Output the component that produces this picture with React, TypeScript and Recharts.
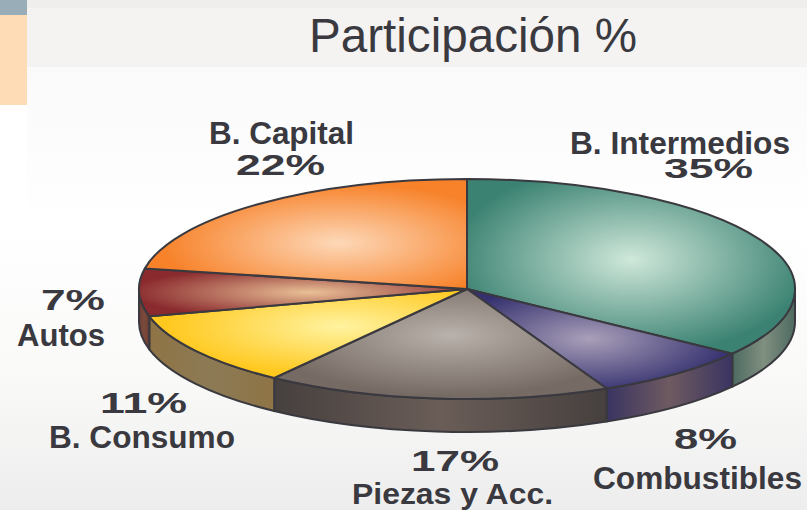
import React from 'react';
import { PieChart, Pie } from 'recharts';

const categories = ['B. Intermedios', 'Combustibles', 'Piezas y Acc.', 'B. Consumo', 'Autos', 'B. Capital'];
const shares = [35, 8, 17, 11, 7, 22];
const data = categories.map((name, i) => ({ name, value: shares[i] }));

// top face: highlight colour, rim colour, highlight position inside the slice
const topLight = ['#cfe8da', '#a99fb9', '#b9b1ab', '#fff3a0', '#e9c096', '#fdd8b8'];
const topEdge = ['#3b8272', '#35316f', '#766a64', '#ffc81e', '#8a2a2e', '#f7822a'];
const topCx = [0.5, 0.46, 0.53, 0.6, 0.52, 0.6];
const topCy = [0.46, 0.5, 0.42, 0.42, 0.5, 0.58];

const wallMid = ['#7f8f80', '#6e5a60', '#6a5d58', '#8c7a55', '#7a4b3c', '#7a4b3c'];
const wallEnd = ['#4e6a60', '#3a3462', '#46403e', '#8f7445', '#6e3c34', '#6e3c34'];

// label placement: [x, baseline, width, size] for name and for percent
const nameLayout = [
  [570, 154, 220, 31],
  [593, 489, 209, 31],
  [352, 504, 201, 30],
  [49, 448, 186, 31],
  [17, 346, 88, 31],
  [209, 144, 145, 31],
];
const pctLayout = [
  [664, 178, 89, 28],
  [674, 449, 63, 29],
  [411, 471, 88, 29],
  [100, 413, 87, 29],
  [41, 310, 64, 29],
  [236, 175, 89, 29],
];

const FLAT = 110 / 328;
const DEPTH = 33;
const INK = '#39393f';

const pt = (cx: number, cy: number, r: number, deg: number) => {
  const a = (deg * Math.PI) / 180;
  return [cx + r * Math.cos(a), cy - FLAT * r * Math.sin(a)];
};

const TopSlice = (props: any) => {
  const { cx, cy, outerRadius: r, startAngle, endAngle, name } = props;
  const i = categories.indexOf(name);
  const [x1, y1] = pt(cx, cy, r, startAngle);
  const [x2, y2] = pt(cx, cy, r, endAngle);
  const large = Math.abs(startAngle - endAngle) > 180 ? 1 : 0;
  const d = `M${cx},${cy} L${x1},${y1} A${r},${r * FLAT} 0 ${large} 1 ${x2},${y2} Z`;
  return <path d={d} fill={`url(#top${i})`} stroke={INK} strokeWidth={2} strokeLinejoin="round" />;
};

const WallSlice = (props: any) => {
  const { cx, cy, outerRadius: r, startAngle, endAngle, name } = props;
  const i = categories.indexOf(name);
  const from = Math.min(startAngle, 0);
  const to = Math.max(endAngle, -180);
  if (from <= to) return <g />;
  const [x1, y1] = pt(cx, cy, r, from);
  const [x2, y2] = pt(cx, cy, r, to);
  const rr = `${r},${r * FLAT}`;
  const d = `M${x1},${y1} A${rr} 0 0 1 ${x2},${y2} L${x2},${y2 + DEPTH} A${rr} 0 0 0 ${x1},${y1 + DEPTH} Z`;
  return <path d={d} fill={`url(#wall${i})`} stroke={INK} strokeWidth={2} strokeLinejoin="round" />;
};

const Label = ({ text, box }: { text: string; box: number[] }) => (
  <text
    x={box[0]}
    y={box[1]}
    textLength={box[2]}
    lengthAdjust="spacingAndGlyphs"
    fontSize={box[3]}
    fontWeight={700}
    fontFamily="'Liberation Sans', Arial, sans-serif"
    fill={INK}
  >
    {text}
  </text>
);

export default function App() {
  return (
    <div style={{ position: 'absolute', left: 0, top: 0, width: 807, height: 510, overflow: 'hidden', background: 'linear-gradient(#fafafa 67px, #ffffff 230px, #f9f9f8 380px, #eeeded 510px)' }}>
      <div style={{ position: 'absolute', left: 0, top: 0, width: 807, height: 8, background: '#efeeed' }} />
      <div style={{ position: 'absolute', left: 27, top: 8, width: 780, height: 59, background: '#f4f3f2' }} />
      <div style={{ position: 'absolute', left: 0, top: 0, width: 27, height: 15, background: '#98adb8' }} />
      <div style={{ position: 'absolute', left: 0, top: 15, width: 27, height: 90, background: '#fddcb6' }} />
      <div style={{ position: 'absolute', left: 0, top: 105, width: 27, height: 125, background: '#ffffff' }} />
      <div style={{ position: 'absolute', left: 0, top: 0 }}>
        <PieChart width={807} height={510} margin={{ top: 0, right: 0, bottom: 0, left: 0 }}>
          <defs>
            {categories.map((_, i) => (
              <radialGradient key={i} id={`top${i}`} cx={topCx[i]} cy={topCy[i]} r={0.55}>
                <stop offset="0%" stopColor={topLight[i]} />
                <stop offset="100%" stopColor={topEdge[i]} />
              </radialGradient>
            ))}
            {categories.map((_, i) => (
              <linearGradient key={i} id={`wall${i}`} x1="0" y1="0" x2="1" y2="0">
                <stop offset="0%" stopColor={wallEnd[i]} />
                <stop offset="50%" stopColor={wallMid[i]} />
                <stop offset="100%" stopColor={wallEnd[i]} />
              </linearGradient>
            ))}
          </defs>
          <Pie
            data={data}
            dataKey="value"
            nameKey="name"
            cx={467}
            cy={289}
            outerRadius={328}
            startAngle={90}
            endAngle={-270}
            shape={WallSlice}
            isAnimationActive={false}
          />
          <Pie
            data={data}
            dataKey="value"
            nameKey="name"
            cx={467}
            cy={289}
            outerRadius={328}
            startAngle={90}
            endAngle={-270}
            shape={TopSlice}
            isAnimationActive={false}
          />
        </PieChart>
      </div>
      <svg width={807} height={510} style={{ position: 'absolute', left: 0, top: 0 }}>
        <text x={309} y={52} fontSize={47.6} fontFamily="'Liberation Sans', Arial, sans-serif" fill={INK}>
          Participación %
        </text>
        {categories.map((name, i) => (
          <React.Fragment key={name}>
            <Label text={name} box={nameLayout[i]} />
            <Label text={`${shares[i]}%`} box={pctLayout[i]} />
          </React.Fragment>
        ))}
      </svg>
    </div>
  );
}
